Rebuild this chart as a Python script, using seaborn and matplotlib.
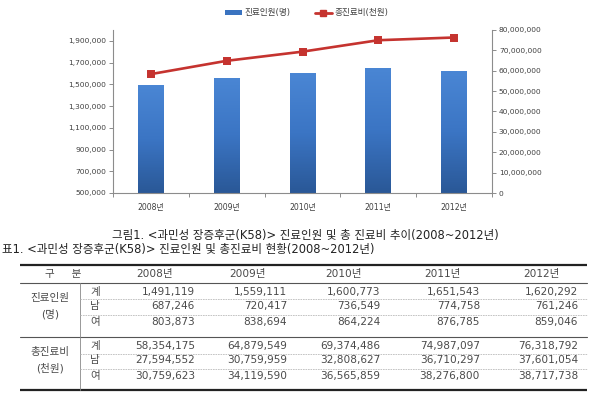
import numpy as np
import pandas as pd
import matplotlib
matplotlib.use("Agg")
import matplotlib.pyplot as plt
import seaborn as sns
from matplotlib.patches import Patch
from matplotlib.lines import Line2D
from matplotlib.colors import LinearSegmentedColormap
from matplotlib.ticker import FuncFormatter, FixedLocator

# ---------------- data ----------------
years = ["2008년", "2009년", "2010년", "2011년", "2012년"]
patients = [1491119, 1559111, 1600773, 1651543, 1620292]
cost = [58354175, 64879549, 69374486, 74987097, 76318792]
patients_m = [687246, 720417, 736549, 774758, 761246]
patients_f = [803873, 838694, 864224, 876785, 859046]
cost_m = [27594552, 30759959, 32808627, 36710297, 37601054]
cost_f = [30759623, 34119590, 36565859, 38276800, 38717738]
left_ticks = [500000, 700000, 900000, 1100000, 1300000, 1500000, 1700000, 1900000]
right_ticks = [0, 10000000, 20000000, 30000000, 40000000, 50000000, 60000000, 70000000, 80000000]
legend_labels = ["진료인원(명)", "총진료비(천원)"]
caption1 = "그림1. <과민성 장증후군(K58)> 진료인원 및 총 진료비 추이(2008~2012년)"
caption2 = "표1. <과민성 장증후군(K58)> 진료인원 및 총진료비 현황(2008~2012년)"
table_head = "구     분"
group_labels = [("진료인원", "(명)"), ("총진료비", "(천원)")]
sub_labels = ["계", "남", "여"]

sns.set_theme(style="white")
plt.rcParams["font.family"] = ["DejaVu Sans", "Noto Sans CJK KR"]

W, H = 595, 393
fig = plt.figure(figsize=(W / 100, H / 100), dpi=100)

BLUE = "#3a73c0"
RED = "#c5332f"
SPINE = "#8c8c8c"
TXT = "#404040"

# ---------------- chart ----------------
ax = fig.add_axes([113 / W, 1 - 193 / H, 379 / W, 163 / H])
df = pd.DataFrame({"year": years, "patients": patients, "cost": cost})
sns.barplot(data=df, x="year", y="patients", ax=ax, color=BLUE,
            width=0.34, saturation=1, errorbar=None)
ax.set_ylim(500000, 2000000)

cmap = LinearSegmentedColormap.from_list("g", ["#2a5897", "#3b75c4", "#4a86d4"])
grad = np.linspace(0, 1, 100).reshape(-1, 1)
for p in list(ax.patches):
    x0, w, h = p.get_x(), p.get_width(), p.get_height()
    im = ax.imshow(grad, cmap=cmap, origin="lower", aspect="auto",
                   extent=[x0, x0 + w, 500000, h], zorder=p.get_zorder() + 0.1)
    im.set_clip_path(p)
ax.set_xlim(-0.5, len(years) - 0.5)
ax.set_ylim(500000, 2000000)

ax.set_xlabel("")
ax.set_ylabel("")
ax.yaxis.set_major_locator(FixedLocator(left_ticks))
ax.yaxis.set_major_formatter(FuncFormatter(lambda v, p: f"{int(v):,}"))
ax.tick_params(axis="y", which="major", direction="out", length=3, width=0.7,
               color=SPINE, labelsize=5.4, labelcolor=TXT, pad=2, left=True)
ax.tick_params(axis="x", which="major", length=0, labelsize=5.6, labelcolor=TXT, pad=7)
ax.set_xticks(np.arange(-0.5, len(years)), minor=True)
ax.tick_params(axis="x", which="minor", direction="out", length=3, width=0.7,
               color=SPINE, bottom=True)
for s in ["top", "right"]:
    ax.spines[s].set_visible(False)
for s in ["left", "bottom"]:
    ax.spines[s].set_color(SPINE)
    ax.spines[s].set_linewidth(0.8)

ax2 = ax.twinx()
sns.pointplot(data=df, x="year", y="cost", ax=ax2, color=RED, markers="s",
              markersize=4.2, linewidth=1.9, errorbar=None)
ax2.set_ylim(0, 80000000)
ax2.set_xlim(-0.5, len(years) - 0.5)
ax2.set_ylabel("")
ax2.yaxis.set_major_locator(FixedLocator(right_ticks))
ax2.yaxis.set_major_formatter(FuncFormatter(lambda v, p: f"{int(v):,}"))
ax2.tick_params(axis="y", direction="out", length=3, width=0.7, color=SPINE,
                labelsize=5.4, labelcolor=TXT, pad=2, right=True)
for s in ["top", "left", "bottom"]:
    ax2.spines[s].set_visible(False)
ax2.spines["right"].set_color(SPINE)
ax2.spines["right"].set_linewidth(0.8)
ax2.grid(False)
ax.grid(False)

handles = [Patch(facecolor=BLUE, edgecolor="none", label=legend_labels[0]),
           Line2D([], [], color=RED, lw=2, marker="s", ms=4, label=legend_labels[1])]
fig.legend(handles=handles, loc="center", bbox_to_anchor=(0.515, 1 - 13 / H),
           ncol=2, frameon=False, fontsize=6.2, handlelength=2.0, handleheight=0.6,
           columnspacing=2.8, handletextpad=0.3, labelcolor=TXT)

# ---------------- caption & table ----------------
tax = fig.add_axes([0, 0, 1, 1])
tax.set_xlim(0, W)
tax.set_ylim(H, 0)
tax.axis("off")
tax.patch.set_visible(False)

CT = "#222222"
tax.text(305, 235, caption1, ha="center", va="center", fontsize=8.3, color=CT)
tax.text(2, 250, caption2, ha="left", va="center", fontsize=8.3, color=CT)

X0, X1 = 20, 587
tax.plot([X0, X1], [265, 265], color="#222222", lw=1.6, solid_capstyle="butt")
tax.plot([X0, X1], [283, 283], color="#555555", lw=0.8)
tax.plot([X0, X1], [337, 337], color="#555555", lw=0.8)
tax.plot([X0, X1], [390, 390], color="#222222", lw=1.6, solid_capstyle="butt")
tax.plot([80, 80], [283, 390], color="#888888", lw=0.6)
for yy in [299, 314.5, 353.5, 368.5]:
    tax.plot([80, X1], [yy, yy], color="#bbbbbb", lw=0.6, ls=(0, (2, 1)))

FS = 7.6
TT = "#4a4a4a"
tax.text(63, 274, table_head, ha="center", va="center", fontsize=FS, color=TT)
head_x = [155, 248, 343, 442, 541]
for x, y in zip(head_x, years):
    tax.text(x, 274, y, ha="center", va="center", fontsize=FS, color=TT)

row_y = [[291.5, 306.5, 322], [345.5, 360.5, 376]]
group_y = [(298, 314), (352, 368)]
value_right = [195, 287, 380, 480, 578]
groups = [[patients, patients_m, patients_f], [cost, cost_m, cost_f]]
for gi, (glab, gy, ry, series) in enumerate(zip(group_labels, group_y, row_y, groups)):
    tax.text(50, gy[0], glab[0], ha="center", va="center", fontsize=FS, color=TT)
    tax.text(50, gy[1], glab[1], ha="center", va="center", fontsize=FS, color=TT)
    for sl, yy, vals in zip(sub_labels, ry, series):
        tax.text(95, yy, sl, ha="center", va="center", fontsize=FS, color=TT)
        for xr, v in zip(value_right, vals):
            tax.text(xr, yy, f"{v:,}", ha="right", va="center", fontsize=FS, color=TT)

fig.savefig("out.png", dpi=100)
